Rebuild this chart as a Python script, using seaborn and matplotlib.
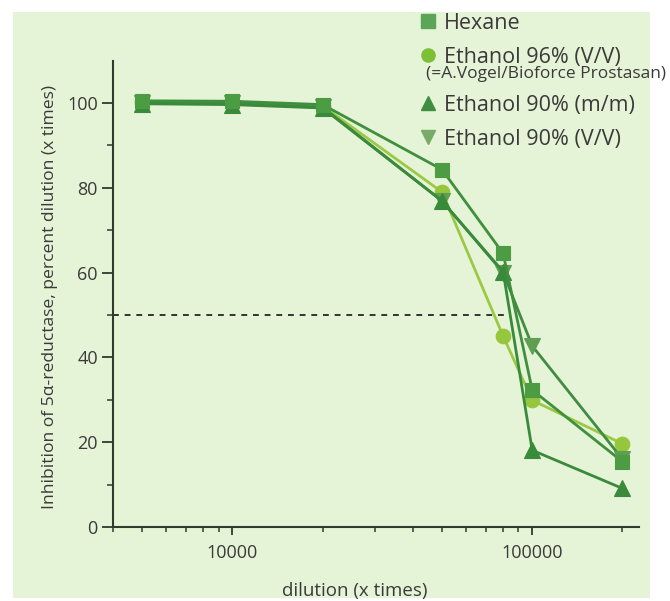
import matplotlib
matplotlib.use('Agg')
import matplotlib.pyplot as plt
import seaborn as sns
import numpy as np
import pandas as pd
from matplotlib.lines import Line2D
from matplotlib.patches import Rectangle
from matplotlib.ticker import FixedLocator, NullFormatter, FuncFormatter

# --- data ---
dilution = [5000, 10000, 20000, 50000, 80000, 100000, 200000]
hexane = [100.5, 100.4, 99.6, 84.3, 64.5, 32.3, 15.4]
ethanol96_vv = [100.2, 100.2, 99.3, 79.0, 45.0, 29.9, 19.6]
ethanol90_mm = [99.8, 99.6, 98.8, 76.9, 60.2, 18.1, 9.1]
ethanol90_vv = [100.0, 100.0, 99.0, 76.9, 60.0, 42.7, 16.0]

ic50_level = 50
ic50_xmax = 82000

series_names = ['Hexane', 'Ethanol 96% (V/V)', 'Ethanol 90% (m/m)', 'Ethanol 90% (V/V)']
series_values = [hexane, ethanol96_vv, ethanol90_mm, ethanol90_vv]

# --- styles ---
styles = {
    'Ethanol 96% (V/V)': dict(marker='o', line='#9cc944', face='#95c63c', ms=10.5, z=3),
    'Ethanol 90% (V/V)': dict(marker='v', line='#3f8c42', face='#5e9f52', ms=11, z=4),
    'Ethanol 90% (m/m)': dict(marker='^', line='#3a8a3b', face='#3a8a3b', ms=11, z=5),
    'Hexane': dict(marker='s', line='#3f8f3d', face='#4c9c44', ms=10.5, z=6),
}
legend_face = {'Hexane': '#5aa557', 'Ethanol 96% (V/V)': '#7dbf35',
               'Ethanol 90% (m/m)': '#3f8f3f', 'Ethanol 90% (V/V)': '#78aa68'}

bg = '#e5f3d7'
txt = '#3a3a3a'
axcol = '#2f3b2f'

sns.set_style('ticks')
plt.rcParams['font.family'] = ['Open Sans', 'DejaVu Sans']

fig = plt.figure(figsize=(6.7, 6.01), dpi=100)
fig.patch.set_facecolor('white')
fig.add_artist(Rectangle((13 / 670, 3 / 601), 637 / 670, 586 / 601,
                         transform=fig.transFigure, facecolor=bg, edgecolor='none', zorder=-10))

ax = fig.add_axes([0.1687, 0.1231, 0.785, 0.7762])
ax.set_facecolor('none')

df = pd.DataFrame({'dilution': np.tile(dilution, len(series_names)),
                   'inhibition': np.concatenate(series_values),
                   'extract': np.repeat(series_names, len(dilution))})

for name in ['Ethanol 96% (V/V)', 'Ethanol 90% (V/V)', 'Ethanol 90% (m/m)', 'Hexane']:
    st = styles[name]
    sub = df[df['extract'] == name]
    sns.lineplot(data=sub, x='dilution', y='inhibition', ax=ax, color=st['line'],
                 marker=st['marker'], markersize=st['ms'], markerfacecolor=st['face'],
                 markeredgecolor=st['face'], markeredgewidth=0.8, linewidth=2.0,
                 zorder=st['z'], legend=False)

ax.hlines(ic50_level, 4000, ic50_xmax, colors='#333333', linestyles=(0, (3, 3)), linewidth=1.4, zorder=2)

ax.set_xscale('log')
ax.set_xlim(4000, 227000)
ax.set_ylim(0, 110)

ax.xaxis.set_major_locator(FixedLocator([10000, 100000]))
ax.xaxis.set_minor_locator(FixedLocator([4000, 5000, 6000, 7000, 8000, 9000,
                                         20000, 30000, 40000, 50000, 60000, 70000, 80000, 90000,
                                         200000]))
ax.xaxis.set_major_formatter(FuncFormatter(lambda v, p: f'{int(v)}'))
ax.xaxis.set_minor_formatter(NullFormatter())
ax.set_yticks([0, 20, 40, 60, 80, 100])
ax.set_yticks([10, 30, 50, 70, 90], minor=True)

for side in ['top', 'right']:
    ax.spines[side].set_visible(False)
for side in ['left', 'bottom']:
    ax.spines[side].set_color(axcol)
    ax.spines[side].set_linewidth(1.5)

ax.tick_params(axis='x', which='major', length=6, width=1.3, color=axcol, labelsize=13, labelcolor=txt, pad=6)
ax.tick_params(axis='x', which='minor', length=3.8, width=1.1, color=axcol)
ax.tick_params(axis='y', which='major', length=8, width=1.3, color=axcol, labelsize=13, labelcolor=txt, pad=3)
ax.tick_params(axis='y', which='minor', length=4, width=1.1, color=axcol)

ax.set_xlabel('dilution (x times)', fontsize=13.5, color=txt)
ax.xaxis.set_label_coords(0.46, -0.118)
ax.set_ylabel('Inhibition of 5\u03b1-reductase, percent dilution (x times)', fontsize=12.6, color=txt)
ax.yaxis.set_label_coords(-0.105, 0.493)

def handle(name):
    st = styles[name]
    return Line2D([], [], ls='none', marker=st['marker'], markersize=st['ms'] - 1,
                  markerfacecolor=legend_face[name], markeredgecolor=legend_face[name])

leg_kw = dict(loc='upper left', frameon=False, fontsize=15.5, handlelength=0.7,
              handletextpad=0.4, labelspacing=0.6, borderpad=0, borderaxespad=0, labelcolor=txt)
leg1 = fig.legend(handles=[handle(n) for n in series_names[:2]], labels=series_names[:2],
                  bbox_to_anchor=(420 / 670, 1 - 13 / 601), **leg_kw)
fig.text(426 / 670, 1 - 74 / 601, '(=A.Vogel/Bioforce Prostasan)', fontsize=12.5, color=txt,
         va='center', ha='left')
leg2 = fig.legend(handles=[handle(n) for n in series_names[2:]], labels=series_names[2:],
                  bbox_to_anchor=(420 / 670, 1 - 95 / 601), **leg_kw)

fig.savefig('out.png', dpi=100, facecolor=fig.get_facecolor())
